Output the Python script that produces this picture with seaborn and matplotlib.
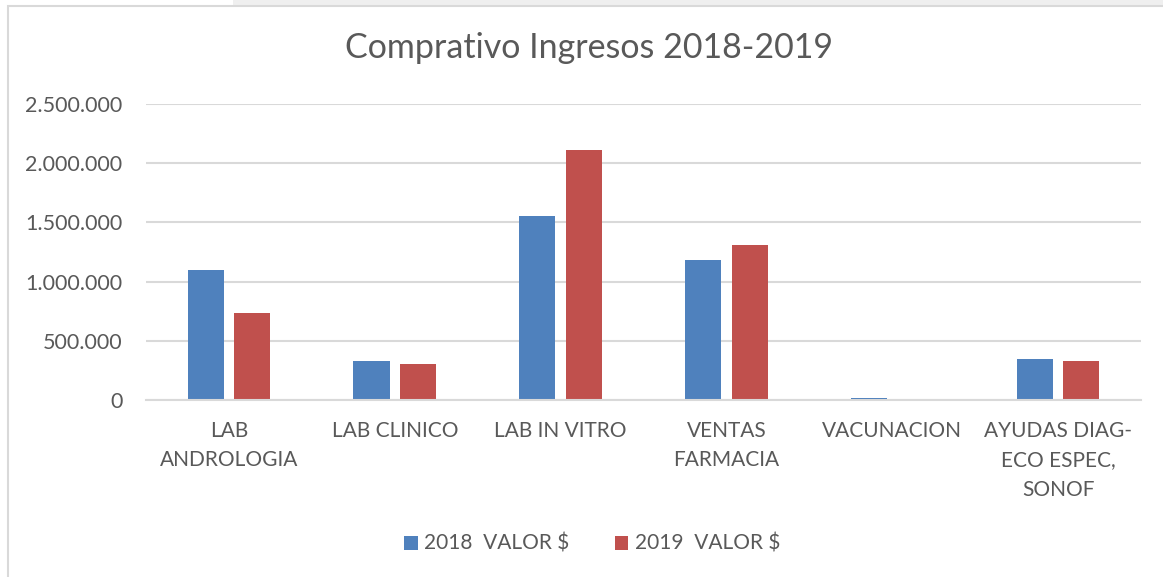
import pandas as pd
import numpy as np
import seaborn as sns
import matplotlib.pyplot as plt
from matplotlib.ticker import FuncFormatter
from matplotlib.patches import Rectangle

#Data
categories = ['LAB\nANDROLOGIA', 'LAB CLINICO', 'LAB IN VITRO', 'VENTAS\nFARMACIA',
              'VACUNACION', 'AYUDAS DIAG-\nECO ESPEC,\nSONOF']
valor_2018 = [1100000, 332000, 1554000, 1185000, 18000, 346000]
valor_2019 = [732000, 304000, 2109000, 1312000, 0, 330000]
series_names = ['2018  VALOR $', '2019  VALOR $']
yticks = [0, 500000, 1000000, 1500000, 2000000, 2500000]

df = pd.DataFrame({
    'Categoria': categories * 2,
    'Valor': valor_2018 + valor_2019,
    'Serie': [series_names[0]] * len(categories) + [series_names[1]] * len(categories),
})

sns.set_style('white')
plt.rcParams['font.family'] = ['Lato', 'DejaVu Sans']
text_color = '#595959'
grid_color = '#D9D9D9'

fig = plt.figure(figsize=(11.63, 5.77), dpi=100)
ax = fig.add_axes([146/1163, 177/577, (1141-146)/1163, (400-104)/577])

sns.barplot(data=df, x='Categoria', y='Valor', hue='Serie',
            palette=['#4F81BD', '#C0504D'], width=0.56, gap=0.22,
            saturation=1, edgecolor='none', ax=ax, legend=True)

ax.set_ylim(0, 2500000)
ax.set_xlim(-0.5, len(categories) - 0.5)
ax.set_yticks(yticks)
ax.yaxis.set_major_formatter(FuncFormatter(lambda v, p: f'{int(v):,}'.replace(',', '.')))
ax.yaxis.grid(True, color=grid_color, linewidth=1.5)
ax.set_axisbelow(True)
for s in ['top', 'right', 'left']:
    ax.spines[s].set_visible(False)
ax.spines['bottom'].set_color(grid_color)
ax.spines['bottom'].set_linewidth(1.5)
ax.tick_params(axis='y', length=0, pad=17, labelsize=15.5, labelcolor=text_color)
ax.tick_params(axis='x', length=0, pad=15, labelsize=15, labelcolor=text_color)
for lbl in ax.get_xticklabels():
    lbl.set_linespacing(1.6)
ax.set_xlabel('')
ax.set_ylabel('')

#Legend at the bottom
handles, labels = ax.get_legend_handles_labels()
ax.get_legend().remove()
fig.legend(handles, labels, loc='center', bbox_to_anchor=(592/1163, 1 - 544/577),
           ncol=2, frameon=False, fontsize=15, labelcolor=text_color,
           handlelength=0.65, handleheight=0.65, handletextpad=0.3, columnspacing=2.2)

fig.text(589/1163, 1 - 48/577, 'Comprativo Ingresos 2018-2019', ha='center', va='center',
         fontsize=24.5, color=text_color)

#Chart frame
fig.patches.append(Rectangle((0.2, 1 - 5/577), 0.8, 5/577, transform=fig.transFigure,
                             facecolor='#EFEFEF', edgecolor='none'))
fig.patches.append(Rectangle((8/1163, -0.05), 1.1, 1 - 6/577 + 0.05, transform=fig.transFigure,
                             facecolor='none', edgecolor='#D9D9D9', linewidth=1.5))

plt.savefig('out.png', dpi=100)
